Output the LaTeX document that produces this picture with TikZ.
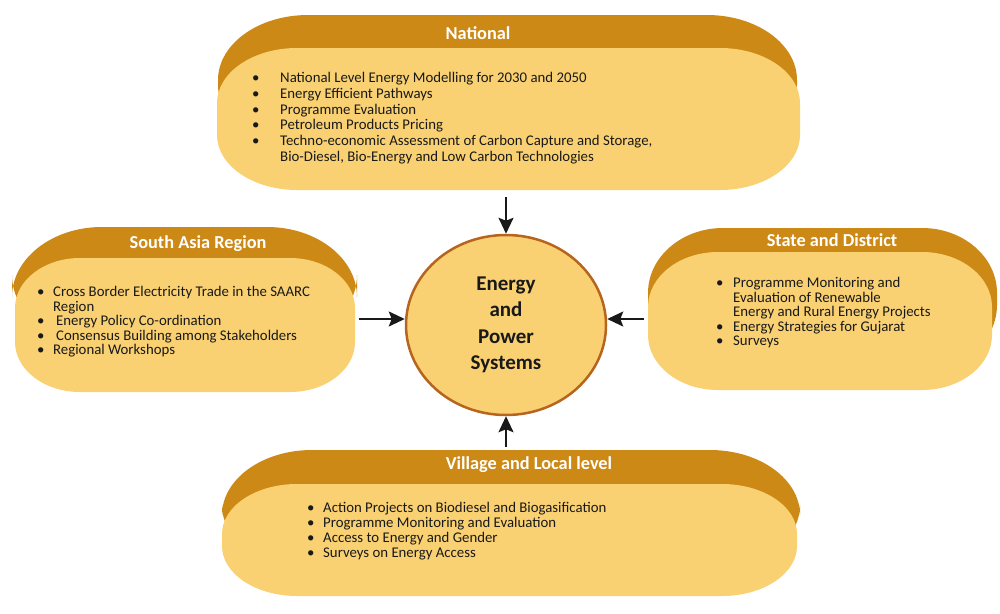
\documentclass[tikz,border=0pt]{standalone}
\usepackage{fontspec}
\setmainfont{Carlito}
\usetikzlibrary{arrows.meta,positioning,shapes.geometric}
\definecolor{epdark}{RGB}{204,137,22}
\definecolor{eplight}{RGB}{249,209,114}
\definecolor{epedge}{RGB}{183,100,30}
\definecolor{eptext}{RGB}{25,25,25}
\tikzset{
  title/.style={font=\fontsize{18.3}{21}\selectfont\bfseries, text=white},
  items/.style={font=\fontsize{14.8}{14.6}\selectfont, align=left, anchor=north west,
    inner sep=0pt, text=eptext},
  arr/.style={-{Stealth[length=16pt,width=15pt,inset=3pt]}, line width=2pt, black!90},
}
\newcommand{\bul}[1]{\makebox[#1][l]{\textbullet}}
% pill shape with elliptic corners: colour, x1, y1, x2, y2, rx, ry
\newcommand{\pill}[7]{%
  \fill[#1] ({#2+#6},#3) -- ({#4-#6},#3)
    arc[start angle=90, end angle=0, x radius=#6pt, y radius=#7pt] -- (#4,{#5-#7})
    arc[start angle=0, end angle=-90, x radius=#6pt, y radius=#7pt] -- ({#2+#6},#5)
    arc[start angle=-90, end angle=-180, x radius=#6pt, y radius=#7pt] -- (#2,{#3+#7})
    arc[start angle=180, end angle=90, x radius=#6pt, y radius=#7pt] -- cycle;}

\begin{document}
\begin{tikzpicture}[x=1pt, y=-1pt]
\useasboundingbox (0,0) rectangle (1000,613);
% -- panels: dark back, light front --
\pill{epdark}{218}{15}{797}{150}{90}{65}
\pill{eplight}{217}{48}{800}{190}{80}{55}
\pill{epdark}{12}{227}{357}{345}{90}{70}
\pill{eplight}{15}{258}{355}{392}{65}{50}
\pill{epdark}{648}{228}{997}{370}{75}{65}
\pill{eplight}{648}{252}{992}{390}{70}{55}
\pill{epdark}{222}{450}{800}{570}{90}{65}
\pill{eplight}{222}{484}{797}{596}{75}{50}
\coordinate (natbot) at (506,190);
\coordinate (saright) at (355,319);
\coordinate (stleft) at (648,319);
\coordinate (viltop) at (506,450);
% -- titles --
\node[title] (nattitle) at (478,33) {National};
\node[title] (satitle) at (198,244) {South Asia Region};
\node[title] (sttitle) at (832,240) {State and District};
\node[title] (viltitle) at (529,465) {Village and Local level};
% -- lists --
\node[items, font=\fontsize{14.8}{15.8}\selectfont] (natlist) at (252,72) {%
  \bul{28pt}National Level Energy Modelling for 2030 and 2050\\
  \bul{28pt}Energy Efficient Pathways\\
  \bul{28pt}Programme Evaluation\\
  \bul{28pt}Petroleum Products Pricing\\
  \bul{28pt}Techno-economic Assessment of Carbon Capture and Storage,\\
  \hspace*{28pt}Bio-Diesel, Bio-Energy and Low Carbon Technologies};
\node[items] (salist) at (37,286) {%
  \bul{16pt}Cross Border Electricity Trade in the SAARC\\
  \hspace*{16pt}Region\\
  \bul{16pt}\hspace{3pt}Energy Policy Co-ordination\\
  \bul{16pt}\hspace{3pt}Consensus Building among Stakeholders\\
  \bul{16pt}Regional Workshops};
\node[items] (stlist) at (716,277) {%
  \bul{17pt}Programme Monitoring and\\
  \hspace*{17pt}Evaluation of Renewable\\
  \hspace*{17pt}Energy and Rural Energy Projects\\
  \bul{17pt}Energy Strategies for Gujarat\\
  \bul{17pt}Surveys};
\node[items, font=\fontsize{14.8}{15}\selectfont] (villist) at (307,502) {%
  \bul{16pt}Action Projects on Biodiesel and Biogasification\\
  \bul{16pt}Programme Monitoring and Evaluation\\
  \bul{16pt}Access to Energy and Gender\\
  \bul{16pt}Surveys on Energy Access};
% -- centre --
\node[ellipse, draw=epedge, line width=2.5pt, fill=eplight, minimum width=200pt, minimum height=180pt,
  inner sep=0pt, align=center, font=\fontsize{21}{26.5}\selectfont\bfseries, text=eptext] (circ) at (506,325)
  {Energy\\and\\Power\\Systems};
\coordinate (lin) at ([yshift=6pt]circ.west);
\coordinate (rin) at ([yshift=6pt]circ.east);
% -- arrows --
\draw[arr, shorten <=7pt] (natbot) -- (circ.north);
\draw[arr, shorten <=4pt] (saright |- lin) -- (lin);
\draw[arr, shorten <=4pt] (stleft |- rin) -- (rin);
\draw[arr, shorten <=3pt] (viltop) -- (circ.south);
\end{tikzpicture}
\end{document}
